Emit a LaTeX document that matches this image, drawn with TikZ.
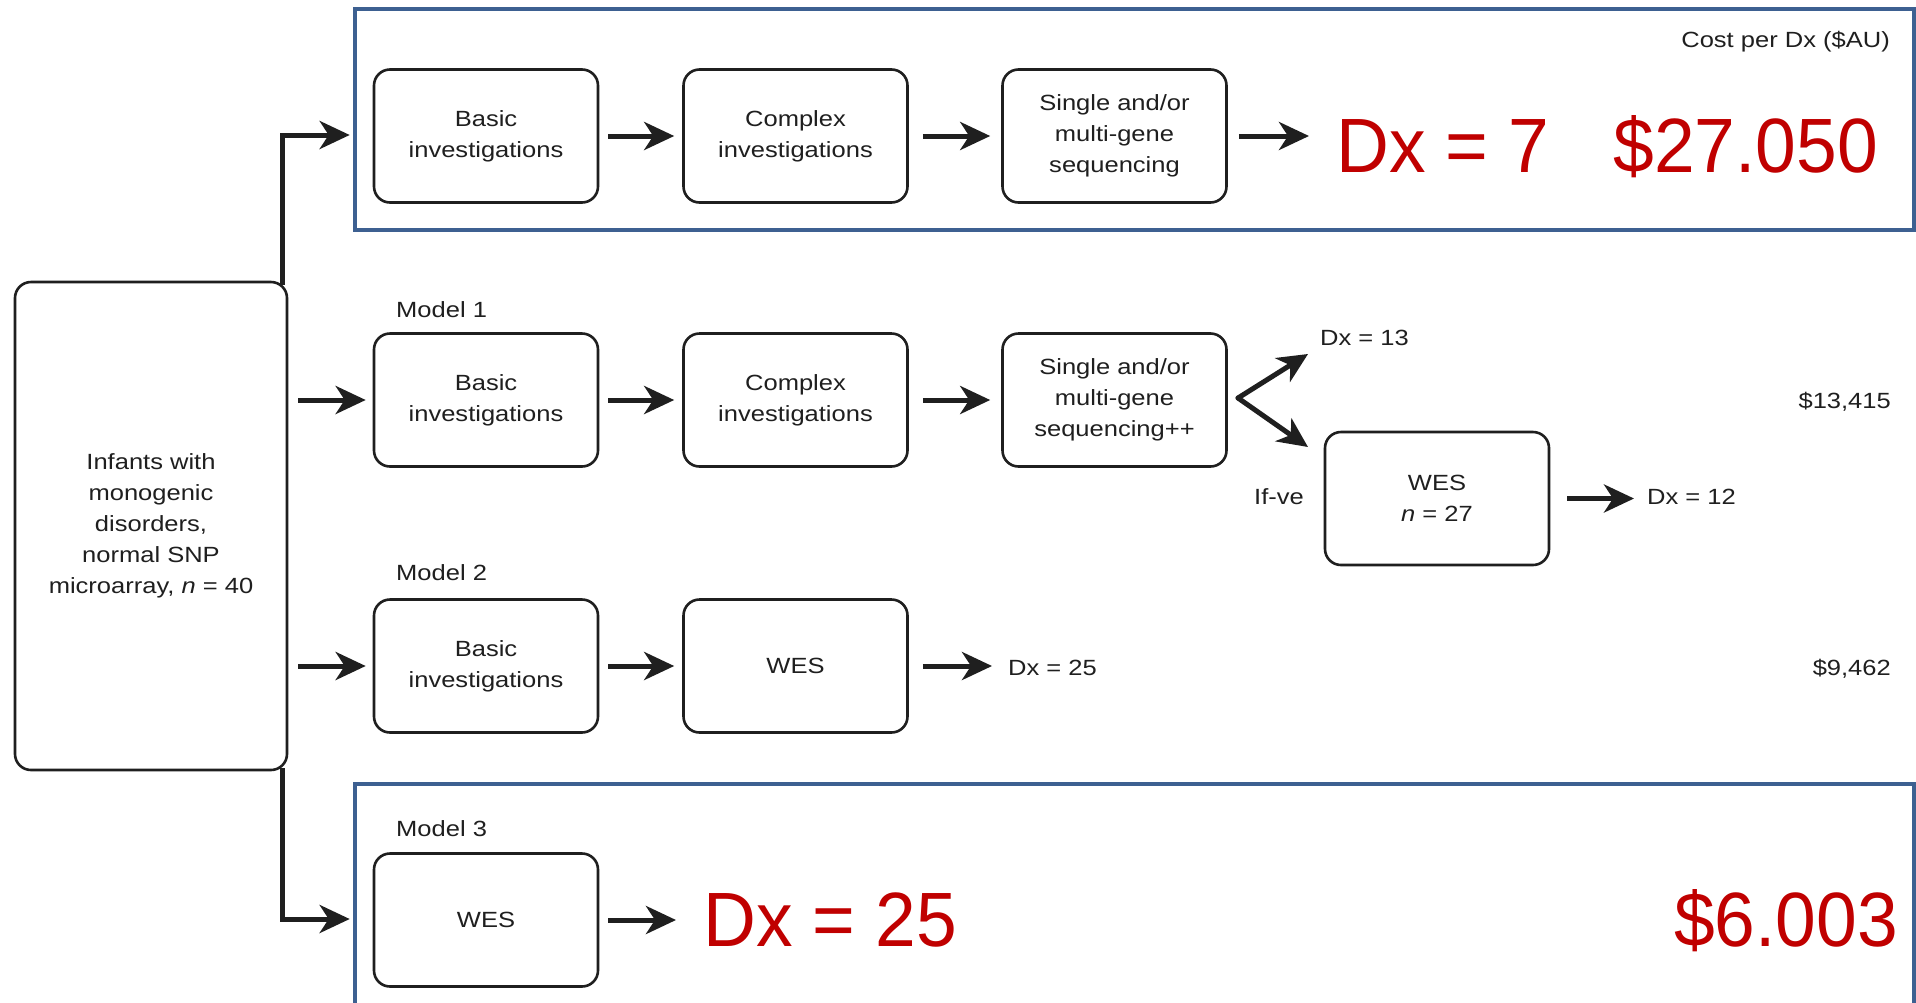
\documentclass[tikz,border=0pt]{standalone}
\usepackage{fontspec}
\setmainfont{Liberation Sans}
\newfontfamily\smf[FakeStretch=1.16]{Liberation Sans}
\newfontfamily\redf[FakeStretch=0.95]{Liberation Sans}
\usetikzlibrary{arrows.meta}
\definecolor{ink}{HTML}{1F1F1F}
\definecolor{frameblue}{HTML}{3D6091}
\definecolor{redtxt}{HTML}{C00000}
\begin{document}
\begin{tikzpicture}[x=1pt,y=-1pt,
  lbl/.style={font=\smf\fontsize{22}{31}\selectfont, text=ink, inner sep=0pt},
  stepbox/.style={draw=ink, line width=2.6pt, rounded corners=16pt, minimum width=224pt, minimum height=133pt, align=center, font=\smf\fontsize{22}{31}\selectfont, text=ink, fill=white, inner sep=0pt},
  arr/.style={draw=ink, line width=5pt, -{Stealth[length=30pt,width=28pt,inset=9pt]}},
  redlbl/.style={font=\redf\fontsize{77}{80}\selectfont, text=redtxt, inner sep=0pt},
  frame/.style={draw=frameblue, line width=4.5pt}]
\useasboundingbox (0,0) rectangle (1916,1002);
\fill[white] (0,0) rectangle (1916,1002);

% blue frames
\draw[frame] (355,9) rectangle (1914,230);
\draw[frame] (355,1015) -- (355,784) -- (1914,784) -- (1914,1015);

% trunk coordinates
\coordinate (t0) at (282,135);
\coordinate (t3) at (282,919);

% row 0
\node[stepbox] (b0) at (486,136) {Basic\\investigations};
\node[stepbox] (c0) at (795.5,136) {Complex\\investigations};
\node[stepbox] (s0) at (1114.5,136) {Single and/or\\multi-gene\\sequencing};
\node[redlbl, anchor=base west] (dx7) at (1336,172) {Dx = 7};
\node[redlbl, anchor=base east] (cost0) at (1878,172) {\$27.050};
\node[lbl, anchor=base east] (costhead) at (1890,47) {Cost per Dx (\$AU)};

% row 1
\node[lbl, anchor=base west] (m1) at (396,317) {Model 1};
\node[stepbox] (b1) at (486,400) {Basic\\investigations};
\node[stepbox] (c1) at (795.5,400) {Complex\\investigations};
\node[stepbox] (s1) at (1114.5,400) {Single and/or\\multi-gene\\sequencing++};
\node[lbl, anchor=base west] (dx13) at (1320,345) {Dx = 13};
\node[stepbox] (w1) at (1437,498.5) {WES\\\textit{n} = 27};
\node[lbl] (ifve) at (1279,497) {If-ve};
\node[lbl, anchor=base west] (dx12) at (1647,504) {Dx = 12};
\node[lbl, anchor=base east] (cost1) at (1891,408) {\$13,415};
\coordinate (fork) at (1238,398);
\coordinate (tipup) at (1308,354);
\coordinate (tipdn) at (1308,447);

% row 2
\node[lbl, anchor=base west] (m2) at (396,580) {Model 2};
\node[stepbox] (b2) at (486,666) {Basic\\investigations};
\node[stepbox] (w2) at (795.5,666) {WES};
\node[lbl, anchor=base west] (dx25a) at (1008,675) {Dx = 25};
\node[lbl, anchor=base east] (cost2) at (1891,675) {\$9,462};

% row 3
\node[lbl, anchor=base west] (m3) at (396,836) {Model 3};
\node[stepbox] (w3) at (486,920) {WES};
\node[redlbl, anchor=base west] (dx25b) at (703,946) {Dx = 25};
\node[redlbl, anchor=base east] (cost3) at (1898,946) {\$6.003};

% trunk and branch arrows
\draw[arr] (282,285) -- (t0) -- ([xshift=-23pt]b0.west |- t0);
\draw[arr] (282,768) -- (t3) -- ([xshift=-23pt]w3.west |- t3);

% main box
\node[stepbox, minimum width=272pt, minimum height=488pt] (main) at (151,526)
  {Infants with\\monogenic\\disorders,\\normal SNP\\microarray, \textit{n} = 40};

\draw[arr] ([xshift=10pt]main.east |- b1.west) -- ([xshift=-7pt]b1.west);
\draw[arr] ([xshift=10pt]main.east |- b2.west) -- ([xshift=-7pt]b2.west);

% row 0 arrows
\draw[arr] ([xshift=9pt]b0.east) -- ([xshift=-8pt]c0.west);
\draw[arr] ([xshift=14pt]c0.east) -- ([xshift=-11pt]s0.west);
\draw[arr] ([xshift=11pt]s0.east) -- ([xshift=-27pt]dx7.west |- s0.east);

% row 1 arrows
\draw[arr] ([xshift=9pt]b1.east) -- ([xshift=-8pt]c1.west);
\draw[arr] ([xshift=14pt]c1.east) -- ([xshift=-11pt]s1.west);
\draw[arr, line cap=round] (fork) -- (tipup);
\draw[arr, line cap=round] (fork) -- (tipdn);
\draw[arr] ([xshift=17pt]w1.east) -- ([xshift=-13pt]dx12.west |- w1.east);

% row 2 arrows
\draw[arr] ([xshift=9pt]b2.east) -- ([xshift=-8pt]w2.west);
\draw[arr] ([xshift=14pt]w2.east) -- ([xshift=-16pt]dx25a.west |- w2.east);

% row 3 arrow
\draw[arr] ([xshift=9pt]w3.east) -- ([xshift=-27pt]dx25b.west |- w3.east);
\end{tikzpicture}
\end{document}
